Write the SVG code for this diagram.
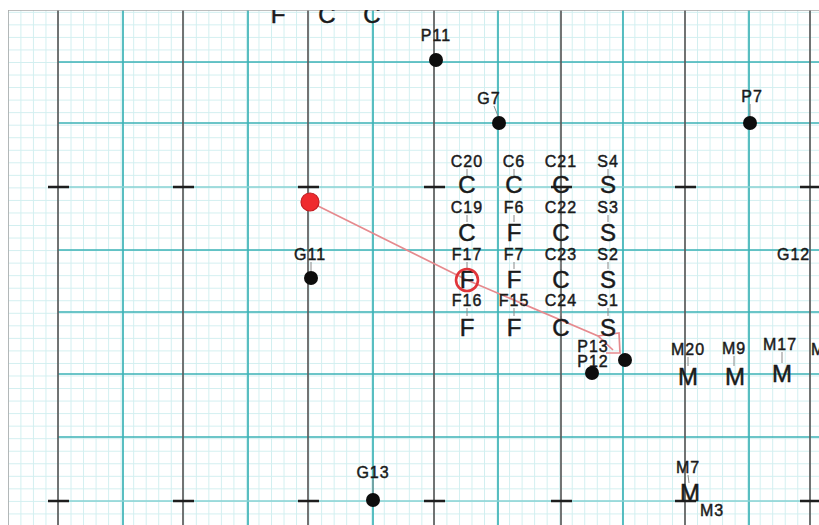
<svg xmlns="http://www.w3.org/2000/svg" width="819" height="525" viewBox="0 0 819 525">
<defs>
  <clipPath id="win"><rect x="8" y="10" width="811" height="515"/></clipPath>
  <pattern id="fine" x="58" y="62" width="12.53" height="12.54" patternUnits="userSpaceOnUse">
    <path d="M0.5 0 V12.54 M0 0.5 H12.53" stroke="#d2eff0" stroke-width="1" fill="none"/>
  </pattern>
  <style>
    .lbl{font-family:"Liberation Sans",Arial,sans-serif;font-size:16px;fill:#1a1a1a;stroke:#1a1a1a;stroke-width:0.45px;text-anchor:middle;letter-spacing:1px}
    .big{font-family:"Liberation Sans",Arial,sans-serif;font-size:24px;fill:#1a1a1a;stroke:#1a1a1a;stroke-width:0.5px;text-anchor:middle}
    .teal{stroke:#3db3b7;stroke-width:1.7;fill:none}
    .tealL{stroke:#86d2d3;stroke-width:1.4;fill:none}
    .dark{stroke:#5c5c5c;stroke-width:1.7;fill:none}
    .tick{stroke:#1e1e1e;stroke-width:2.6;fill:none}
    .lead{stroke:#8a8a8a;stroke-width:1;fill:none}
    .dot{fill:#0d0d0d}
  </style>
</defs>
<rect width="819" height="525" fill="#ffffff"/>
<g clip-path="url(#win)">
<g id="grid">
  <rect x="8" y="10" width="811" height="515" fill="url(#fine)"/>
  <path class="teal" d="M123 10V525 M248 10V525 M373 10V525 M498 10V525 M623 10V525 M749 10V525"/>
  <path class="teal" d="M58 62H819 M58 123H819 M58 250H819 M58 312H819 M58 374H819 M58 437H819"/>
  <path class="tealL" d="M58 187H819 M58 501H819"/>
  <path class="dark" d="M58 10V525 M183 10V525 M308 10V525 M434 10V525 M561 10V525 M685 10V525 M810 10V525"/>
  <path class="tick" d="M48 187H69 M173 187H194 M298 187H319 M424 187H445 M551 187H572 M675 187H696 M800 187H819
                        M48 501H69 M173 501H194 M298 501H319 M424 501H445 M551 501H572 M675 501H696 M800 501H819"/>
  <path d="M8 10V525 M8 10H819" stroke="#a9a9a9" stroke-width="1.6" fill="none"/>
</g>

<g id="connectors">
  <polyline points="310,202 467,280 598,336 613,350" stroke="#e68a8e" stroke-width="1.7" fill="none"/>
  <polyline points="598,336 619,333 620,353 606,353" stroke="#e68a8e" stroke-width="1.7" fill="none"/>
</g>

<g id="top-partial">
  <text class="big" x="278" y="23">F</text>
  <text class="big" x="327" y="23">C</text>
  <text class="big" x="372" y="23">C</text>
</g>

<g id="P11"><text class="lbl" x="436" y="41">P11</text><circle class="dot" cx="436" cy="60" r="7"/></g>
<g id="G7"><text class="lbl" x="489" y="104">G7</text><line class="lead" x1="494" y1="106" x2="498" y2="116"/><circle class="dot" cx="499" cy="123" r="7"/></g>
<g id="P7"><text class="lbl" x="752" y="102">P7</text><line class="lead" x1="750" y1="104" x2="750" y2="116"/><circle class="dot" cx="750" cy="123" r="7"/></g>
<g id="G12"><text class="lbl" x="777" y="260" style="text-anchor:start">G12</text></g>
<g id="G11"><text class="lbl" x="310" y="260">G11</text><line class="lead" x1="311" y1="262" x2="311" y2="271"/><circle class="dot" cx="311" cy="278" r="7"/></g>
<g id="G13"><text class="lbl" x="373" y="478">G13</text><line class="lead" x1="373" y1="480" x2="373" y2="493"/><circle class="dot" cx="373" cy="500" r="7"/></g>
<g id="P13"><text class="lbl" x="593" y="352">P13</text><circle class="dot" cx="625" cy="360" r="7"/></g>
<g id="P12"><text class="lbl" x="593" y="367">P12</text><circle class="dot" cx="592" cy="373" r="7"/></g>

<g id="cluster-leaders">
  <path class="lead" d="M467 169V176 M514 169V176 M608 169V176
                        M467 215V222 M514 215V222 M561 215V222 M608 215V222
                        M467 262V269 M514 262V269 M561 262V269 M608 262V269
                        M467 308V316 M514 308V316 M561 308V316 M608 308V316"/>
</g>
<g id="C20"><text class="lbl" x="467" y="167">C20</text><text class="big" x="467" y="193">C</text></g>
<g id="C6"><text class="lbl" x="514" y="167">C6</text><text class="big" x="514" y="193">C</text></g>
<g id="C21"><text class="lbl" x="561" y="167">C21</text><text class="big" x="561" y="193">C</text></g>
<g id="S4"><text class="lbl" x="608" y="167">S4</text><text class="big" x="608" y="193">S</text></g>
<g id="C19"><text class="lbl" x="467" y="213">C19</text><text class="big" x="467" y="241">C</text></g>
<g id="F6"><text class="lbl" x="514" y="213">F6</text><text class="big" x="514" y="241">F</text></g>
<g id="C22"><text class="lbl" x="561" y="213">C22</text><text class="big" x="561" y="241">C</text></g>
<g id="S3"><text class="lbl" x="608" y="213">S3</text><text class="big" x="608" y="241">S</text></g>
<g id="F17"><text class="lbl" x="467" y="260">F17</text><text class="big" x="467" y="288">F</text></g>
<g id="F7"><text class="lbl" x="514" y="260">F7</text><text class="big" x="514" y="288">F</text></g>
<g id="C23"><text class="lbl" x="561" y="260">C23</text><text class="big" x="561" y="288">C</text></g>
<g id="S2"><text class="lbl" x="608" y="260">S2</text><text class="big" x="608" y="288">S</text></g>
<g id="F16"><text class="lbl" x="467" y="306">F16</text><text class="big" x="467" y="336">F</text></g>
<g id="F15"><text class="lbl" x="514" y="306">F15</text><text class="big" x="514" y="336">F</text></g>
<g id="C24"><text class="lbl" x="561" y="306">C24</text><text class="big" x="561" y="336">C</text></g>
<g id="S1"><text class="lbl" x="608" y="306">S1</text><text class="big" x="608" y="336">S</text></g>

<g id="M20"><text class="lbl" x="688" y="355">M20</text><line class="lead" x1="688" y1="357" x2="688" y2="366"/><text class="big" x="688" y="385">M</text></g>
<g id="M9"><text class="lbl" x="734" y="354">M9</text><line class="lead" x1="734" y1="356" x2="734" y2="366"/><text class="big" x="735" y="385">M</text></g>
<g id="M17"><text class="lbl" x="780" y="350">M17</text><line class="lead" x1="782" y1="352" x2="782" y2="363"/><text class="big" x="782" y="382">M</text></g>
<g id="M-edge"><text class="lbl" x="811" y="355" style="text-anchor:start">M</text></g>
<g id="M7"><text class="lbl" x="688" y="473">M7</text><line class="lead" x1="688" y1="475" x2="689" y2="483"/><text class="big" x="690" y="501">M</text></g>
<g id="M3"><text class="lbl" x="712" y="516">M3</text></g>

<g id="red-marker">
  <circle cx="467" cy="280" r="11" fill="none" stroke="#e0353a" stroke-width="2.6"/>
  <circle cx="310" cy="202" r="9" fill="#ef2a2e" stroke="#c41d22" stroke-width="1.2"/>
</g>
</g>
</svg>
